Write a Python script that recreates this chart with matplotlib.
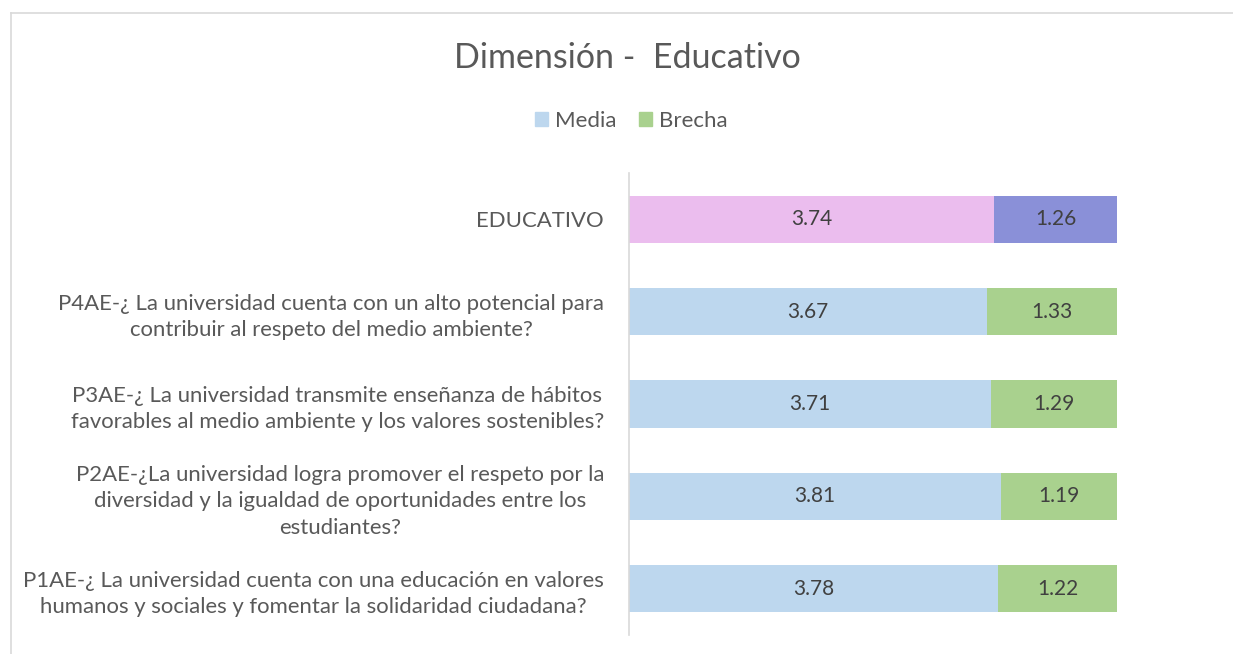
import matplotlib
matplotlib.use("Agg")
import matplotlib.pyplot as plt
from matplotlib.lines import Line2D
from matplotlib.patches import Patch

categories = [
    "P1AE-¿ La universidad cuenta con una educación en valores\nhumanos y sociales y fomentar la solidaridad ciudadana?",
    "P2AE-¿La universidad logra promover el respeto por la\ndiversidad y la igualdad de oportunidades entre los\nestudiantes?",
    "P3AE-¿ La universidad transmite enseñanza de hábitos\nfavorables al medio ambiente y los valores sostenibles?",
    "P4AE-¿ La universidad cuenta con un alto potencial para\ncontribuir al respeto del medio ambiente?",
    "EDUCATIVO",
]
media = [3.78, 3.81, 3.71, 3.67, 3.74]
brecha = [1.22, 1.19, 1.29, 1.33, 1.26]

media_colors = ["#BDD7EE", "#BDD7EE", "#BDD7EE", "#BDD7EE", "#EBBDEE"]
brecha_colors = ["#A9D18E", "#A9D18E", "#A9D18E", "#A9D18E", "#8A90D8"]

plt.rcParams['font.family'] = ['Lato', 'DejaVu Sans']
W, H = 1233, 654
fig = plt.figure(figsize=(W / 100, H / 100), dpi=100)

# chart border
fig.add_artist(Line2D([10.5 / W, 1.0], [1 - 12.5 / H, 1 - 12.5 / H], color="#D9D9D9", lw=1.2, transform=fig.transFigure))
fig.add_artist(Line2D([10.5 / W, 10.5 / W], [0, 1 - 12.5 / H], color="#D9D9D9", lw=1.2, transform=fig.transFigure))

ax = fig.add_axes([629 / W, 1 - 635 / H, (1117 - 629) / W, (635 - 173) / H])
y = list(range(len(categories)))
ax.barh(y, media, height=0.51, color=media_colors, label="Media")
ax.barh(y, brecha, left=media, height=0.51, color=brecha_colors, label="Brecha")

for i in y:
    ax.text(media[i] / 2, i, f"{media[i]:.2f}", ha="center", va="center", fontsize=15, color="#404040")
    ax.text(media[i] + brecha[i] / 2, i, f"{brecha[i]:.2f}", ha="center", va="center", fontsize=15, color="#404040")

ax.set_xlim(0, 5)
ax.set_ylim(-0.5, 4.5)
ax.set_xticks([])
ax.set_yticks(y)
ax.set_yticklabels(categories, fontsize=15.9, color="#595959", multialignment="center", linespacing=1.38)
ax.tick_params(axis="y", length=0, pad=18)
for s in ["top", "right", "bottom"]:
    ax.spines[s].set_visible(False)
ax.spines["left"].set_color("#D9D9D9")
ax.spines["left"].set_linewidth(1.2)

fig.text(627 / W, 1 - 58 / H, "Dimensión -  Educativo", ha="center", va="center", fontsize=24.5, color="#595959")

handles = [Patch(color="#BDD7EE"), Patch(color="#A9D18E")]
fig.legend(handles, ["Media", "Brecha"], loc="center", bbox_to_anchor=(631 / W, 1 - 121 / H), ncol=2,
           frameon=False, fontsize=16, labelcolor="#595959", handlelength=0.6, handleheight=0.6,
           handletextpad=0.3, columnspacing=1.0)

fig.savefig("out.png", dpi=100)
